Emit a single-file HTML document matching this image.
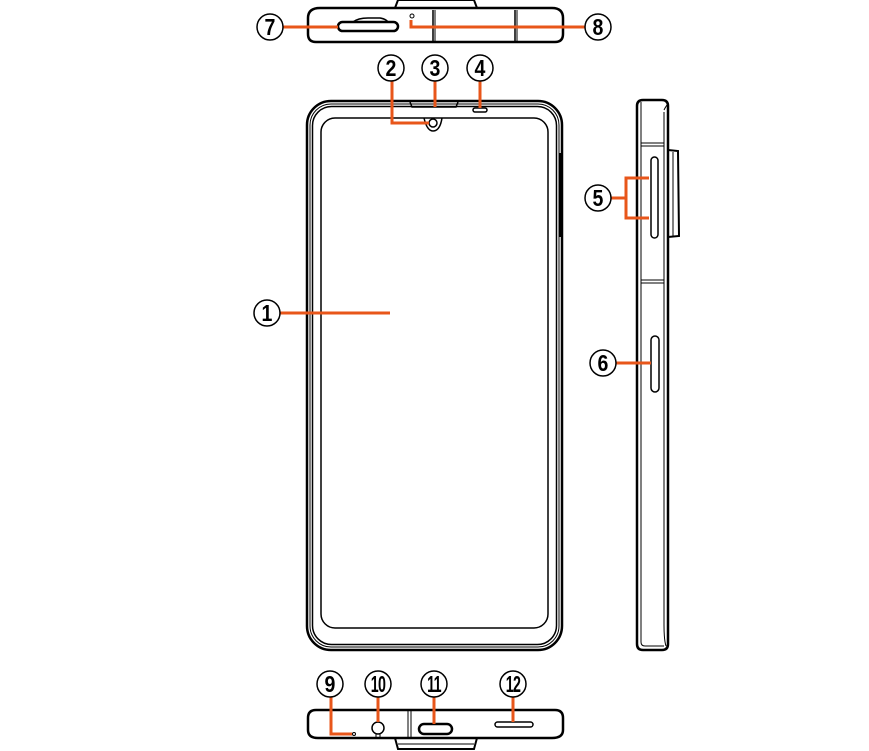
<!DOCTYPE html>
<html><head><meta charset="utf-8"><style>
html,body{margin:0;padding:0;background:#fff;}
svg{display:block;}
text{font-family:"Liberation Sans",sans-serif;font-weight:bold;font-size:23px;text-anchor:middle;}
</style></head><body>
<svg width="869" height="751" viewBox="0 0 869 751" xmlns="http://www.w3.org/2000/svg">
<g fill="none" stroke="#000">
<!-- top view -->
<path d="M395,8 L398,0 L474,0 L477,8" stroke-width="2"/>
<path d="M316,42 Q308,42 308,34 L308,18 Q308,8 320,8 L552,8 Q563,8 563,18 L563,34 Q563,42 555,42 Z" stroke-width="2.5"/>
<line x1="433" y1="10" x2="433" y2="42" stroke-width="1.5"/>
<line x1="435" y1="10" x2="435" y2="42" stroke-width="1"/>
<line x1="515" y1="10" x2="515" y2="42" stroke-width="1.5"/>
<line x1="517" y1="10" x2="517" y2="42" stroke-width="1"/>
<rect x="338" y="22" width="60" height="9" rx="4.5" stroke-width="2.5"/>
<path d="M353,22 Q358,18 368,18 L380,18 Q386,19 388,22" stroke-width="1.5"/>
<circle cx="412" cy="16" r="2" stroke-width="1"/>
<!-- front phone -->
<rect x="307" y="101" width="255" height="549" rx="24" stroke-width="2.5"/>
<rect x="310" y="104" width="249" height="543" rx="21" stroke-width="1"/>
<rect x="312.5" y="106.5" width="244" height="538" rx="19" stroke-width="1.5"/>
<rect x="321" y="118" width="227" height="510" rx="14" stroke-width="1.5"/>
<path d="M410,102 L412,107 L456,107 L458,102" stroke-width="1.5"/>
<rect x="473" y="108" width="14" height="4" rx="2" stroke-width="1.5"/>
<path d="M424,118 Q427,131 433,131 Q440,131 442,118" stroke-width="1.5"/>
<circle cx="433" cy="123" r="4" stroke-width="1.5"/>
<line x1="561" y1="153" x2="561" y2="237" stroke-width="3"/>
<!-- side view -->
<path d="M637,106 Q637,100 643,100 L662,100 Q668,100 668,106 L668,644 Q668,650 662,650 L643,650 Q637,650 637,644 Z" stroke-width="2.5"/>
<path d="M641,102 L641,642 Q641,646 645,646 L664,646" stroke-width="1"/>
<path d="M664,112 L664,625 Q664,640 666,646" stroke-width="1"/>
<path d="M664,110 Q666,106 668,104" stroke-width="1"/>
<line x1="641" y1="143" x2="664" y2="143" stroke-width="1"/>
<line x1="641" y1="146" x2="664" y2="146" stroke-width="1"/>
<line x1="641" y1="280" x2="664" y2="280" stroke-width="1"/>
<line x1="641" y1="283" x2="664" y2="283" stroke-width="1"/>
<path d="M668,150 L678,151 L679,236 L668,237" stroke-width="2"/>
<line x1="673" y1="152" x2="673" y2="236" stroke-width="1"/>
<rect x="651" y="157" width="7" height="81" rx="3.5" stroke-width="1.5"/>
<rect x="651" y="336" width="8" height="56" rx="4" stroke-width="1.5"/>
<!-- bottom view -->
<path d="M316,710 Q308,710 308,718 L308,730 Q308,738 318,738 L552,738 Q563,738 563,730 L563,718 Q563,710 555,710 Z" stroke-width="2.5"/>
<path d="M395,738 L398,749 L474,749 L477,738" stroke-width="2"/>
<line x1="398" y1="744" x2="474" y2="744" stroke-width="1"/>
<line x1="408" y1="710" x2="408" y2="738" stroke-width="1"/>
<line x1="411" y1="710" x2="411" y2="738" stroke-width="1"/>
<rect x="419" y="724" width="33" height="10" rx="5" stroke-width="2.5"/>
<rect x="495" y="722" width="38" height="5" rx="2.5" stroke-width="1.5"/>
<circle cx="378" cy="728" r="6" stroke-width="1.5"/>
<circle cx="354" cy="734" r="1.5" stroke-width="1"/>
<line x1="376" y1="734" x2="376" y2="738" stroke-width="1"/>
<line x1="380" y1="734" x2="380" y2="738" stroke-width="1"/>
</g>
<!-- leaders -->
<g fill="none" stroke="#e8561a" stroke-width="3">
<line x1="283" y1="27" x2="338" y2="27"/>
<path d="M411,20 L411,27 L585,27"/>
<path d="M392,81 L392,123 L429,123"/>
<line x1="435" y1="81" x2="435" y2="107"/>
<line x1="480" y1="81" x2="480" y2="108"/>
<line x1="280" y1="313" x2="390" y2="313"/>
<path d="M611,198 L625,198 M649,178 L626,178 L626,218 L649,218"/>
<line x1="616" y1="363" x2="651" y2="363"/>
<path d="M331,697 L331,734 L352,734"/>
<line x1="378" y1="697" x2="378" y2="722"/>
<line x1="434" y1="697" x2="434" y2="724"/>
<line x1="513" y1="697" x2="513" y2="722"/>
</g>
<!-- labels -->
<g fill="#fff" stroke="#000" stroke-width="1.5">
<circle cx="270" cy="27" r="13"/><circle cx="598" cy="27" r="13"/>
<circle cx="391" cy="68" r="13"/><circle cx="435" cy="68" r="13"/><circle cx="480" cy="68" r="13"/>
<circle cx="267" cy="313" r="13"/><circle cx="598" cy="198" r="13"/><circle cx="603" cy="363" r="13"/>
<circle cx="330" cy="684" r="13"/><circle cx="378" cy="684" r="13"/><circle cx="434" cy="684" r="13"/><circle cx="513" cy="684" r="13"/>
</g>
<g fill="#000">
<text transform="translate(270,35) scale(0.85,1)">7</text>
<text transform="translate(598,35) scale(0.85,1)">8</text>
<text transform="translate(391,76) scale(0.85,1)">2</text>
<text transform="translate(435,76) scale(0.85,1)">3</text>
<text transform="translate(480,76) scale(0.85,1)">4</text>
<text transform="translate(267,321) scale(0.85,1)">1</text>
<text transform="translate(598,206) scale(0.85,1)">5</text>
<text transform="translate(603,371) scale(0.85,1)">6</text>
<text transform="translate(330,692) scale(0.85,1)">9</text>
<text transform="translate(378,692) scale(0.62,1)" style="letter-spacing:-1px">10</text>
<text transform="translate(434,692) scale(0.62,1)" style="letter-spacing:-1px">11</text>
<text transform="translate(513,692) scale(0.62,1)" style="letter-spacing:-1px">12</text>
</g>
</svg>
</body></html>
